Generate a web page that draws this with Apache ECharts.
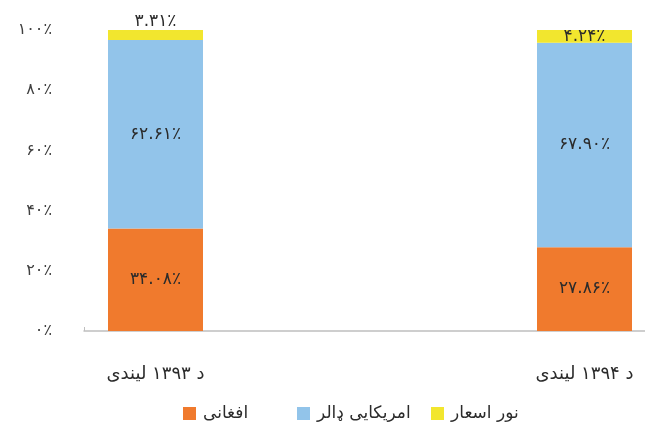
<!DOCTYPE html>
<html>
<head>
<meta charset="utf-8">
<script src="https://cdn.jsdelivr.net/npm/echarts@6/dist/echarts.min.js"></script>
<style>
html,body{margin:0;padding:0;background:#fff;overflow:hidden;}
/* the drawing runs a little past the right edge of the window */
#chart{width:656px;height:429px;}
</style>
</head>
<body>
<div id="chart"></div>
<script>
// Years (categories) and the currency shares for each year, in percent
var years = ['د ۱۳۹۳ لیندی', 'د ۱۳۹۴ لیندی'];
var afghani = [34.08, 27.86];
var usDollar = [62.61, 67.90];
var otherCurrencies = [3.31, 4.24];
var seriesNames = ['افغانی', 'امریکایی ډالر', 'نور اسعار'];
var yTicks = [0, 20, 40, 60, 80, 100];

var FONT = "'DejaVu Sans', sans-serif";

// The two years sit far apart: two empty slots are kept between them on the axis
var GAP_SLOTS = 2;
var axisCats = [years[0]];
for (var g = 0; g < GAP_SLOTS; g++) axisCats.push('');
axisCats.push(years[1]);
function spread(arr) {
  var out = [arr[0]];
  for (var g = 0; g < GAP_SLOTS; g++) out.push('-');
  out.push(arr[1]);
  return out;
}

function toPersianDigits(s) {
  var d = '۰۱۲۳۴۵۶۷۸۹';
  return String(s).replace(/[0-9]/g, function (c) { return d[+c]; });
}
function pct(v, decimals) {
  return toPersianDigits(v.toFixed(decimals)) + '٪';
}

var labelStyle = {
  show: true,
  position: 'inside',
  color: '#2b2b2b',
  fontFamily: FONT,
  fontSize: 17,
  formatter: function (p) { return pct(+p.value, 2); }
};

var chart = echarts.init(document.getElementById('chart'), null, { renderer: 'canvas' });
chart.setOption({
  animation: false,
  backgroundColor: '#ffffff',
  grid: { left: 84, right: 0, top: 30, bottom: 98 },
  legend: [
    { data: [seriesNames[0]], left: 178, top: 400 },
    { data: [seriesNames[1]], left: 292, top: 400 },
    { data: [seriesNames[2]], left: 426, top: 400 }
  ].map(function (l) {
    l.itemWidth = 13; l.itemHeight = 13; l.itemGap = 4;
    l.icon = 'rect';
    l.textStyle = { fontFamily: FONT, fontSize: 17, color: '#2b2b2b', padding: [0, 0, 0, 2] };
    return l;
  }),
  xAxis: {
    type: 'category',
    data: axisCats,
    boundaryGap: true,
    axisLine: { show: true, lineStyle: { color: '#bfbfbf', width: 1.5 } },
    axisTick: {
      show: true, inside: true, length: 4,
      interval: function (i) { return i === 0; },
      lineStyle: { color: '#bfbfbf' }
    },
    axisLabel: { interval: 0, margin: 34, fontFamily: FONT, fontSize: 18, color: '#2b2b2b' }
  },
  yAxis: {
    type: 'value',
    min: yTicks[0],
    max: yTicks[yTicks.length - 1],
    interval: yTicks[1] - yTicks[0],
    splitLine: { show: false },
    axisLine: { show: false },
    axisTick: { show: false },
    axisLabel: {
      margin: 32,
      fontFamily: FONT,
      fontSize: 16,
      color: '#404040',
      formatter: function (v) { return toPersianDigits(v) + '٪'; }
    }
  },
  series: [
    {
      name: seriesNames[0], type: 'bar', stack: 'total', barWidth: 95,
      itemStyle: { color: '#F07A2D' },
      label: labelStyle,
      data: spread(afghani)
    },
    {
      name: seriesNames[1], type: 'bar', stack: 'total', barWidth: 95,
      itemStyle: { color: '#92C4EA' },
      label: labelStyle,
      data: spread(usDollar)
    },
    {
      name: seriesNames[2], type: 'bar', stack: 'total', barWidth: 95,
      itemStyle: { color: '#F2E62E' },
      label: labelStyle,
      data: spread(otherCurrencies.map(function (v, i) {
        // the thin first segment carries its label just above the bar
        return i === 0 ? { value: v, label: { position: 'top', distance: 0 } } : v;
      }))
    }
  ]
});
</script>
</body>
</html>
